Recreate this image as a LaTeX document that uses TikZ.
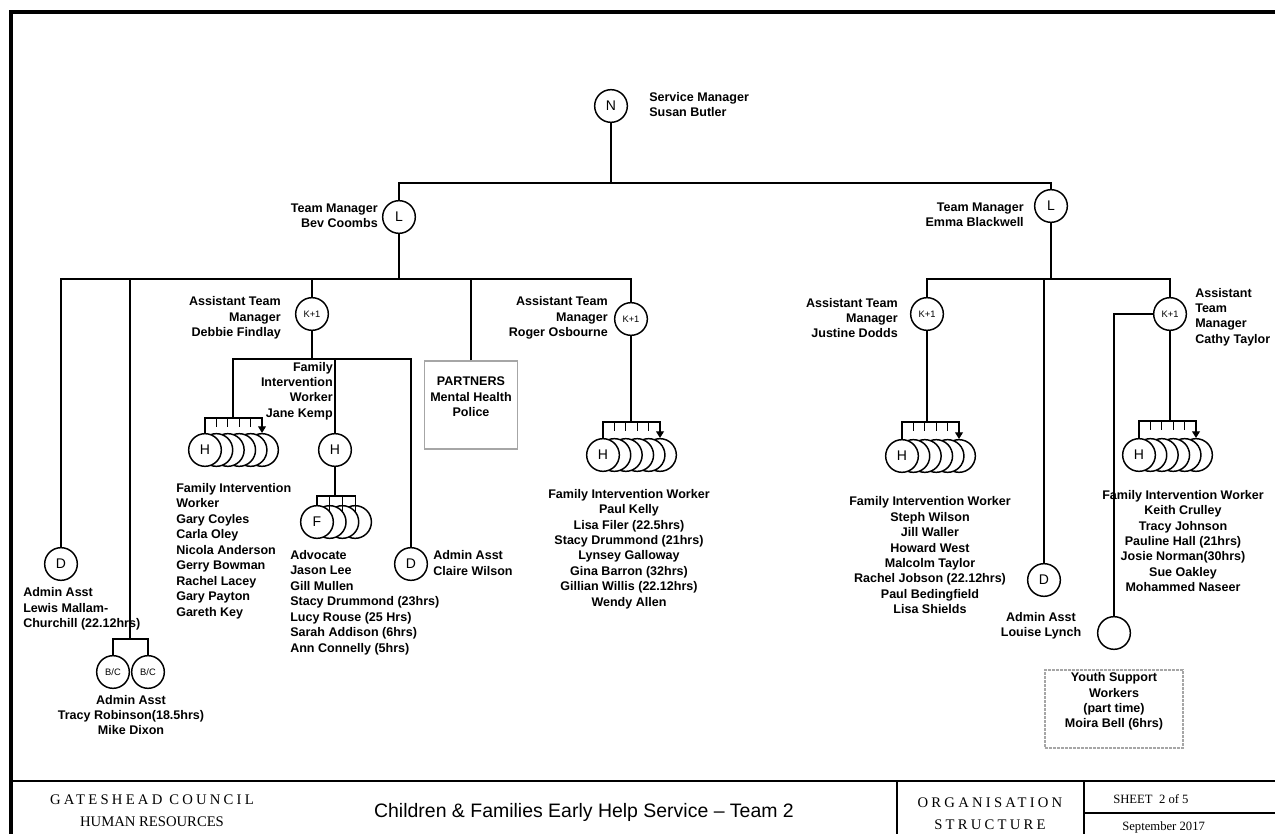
\documentclass[tikz,border=0pt]{standalone}
\usepackage{fontspec}
\setmainfont{Liberation Sans}
\newfontfamily\piedpage{Liberation Serif}
\newfontfamily\piedespace[LetterSpace=22]{Liberation Serif}
\usetikzlibrary{arrows.meta}

\begin{document}
\begin{tikzpicture}[x=0.75pt,y=-0.75pt]
\tikzset{poste/.style={draw, circle, fill=white, line width=1.1pt, minimum size=24.5pt, inner sep=0pt, font=\fontsize{10.5}{12}\selectfont}}
\tikzset{petitposte/.style={poste, font=\fontsize{7}{8}\selectfont}}
\tikzset{libelle/.style={inner sep=0pt, font=\bfseries\fontsize{9.4}{11.6}\selectfont}}
\tikzset{lien/.style={line width=0.8pt}}
\tikzset{fleche/.style={lien, -{Triangle[width=6pt,length=5pt]}}}
\tikzset{cadre/.style={draw=gray!70, line width=0.8pt, inner sep=0pt}}
\useasboundingbox (0,0) rectangle (1275,834);
\draw[line width=3pt] (11,834) -- (11,12) -- (1275,12);
\draw[line width=2pt] (11,781) -- (1275,781);
\draw[line width=1.5pt] (897,781) -- (897,834);
\draw[line width=1.5pt] (1084,781) -- (1084,834);
\draw[line width=1.5pt] (1084,813) -- (1275,813);
\node[poste] (N) at (611,106) {N};
\node[poste] (L1) at (399,217) {L};
\node[poste] (L2) at (1051,206) {L};
\node[petitposte] (K1) at (312,314) {K+1};
\node[petitposte] (K2) at (631,319) {K+1};
\node[petitposte] (K3) at (927,314) {K+1};
\node[petitposte] (K4) at (1170,314) {K+1};
\node[poste] (D1) at (61,564) {D};
\node[poste] (D2) at (411,564) {D};
\node[poste] (D3) at (1044,580) {D};
\node[petitposte] (BC1) at (113,672) {B/C};
\node[petitposte] (BC2) at (148,672) {B/C};
\node[poste] (H2) at (335,450) {H};
\node[poste] (YS) at (1114,633) {};
\node[poste] (H1f) at (262,450) {};
\node[poste] (H1e) at (250.6,450) {};
\node[poste] (H1d) at (239.2,450) {};
\node[poste] (H1c) at (227.8,450) {};
\node[poste] (H1b) at (216.4,450) {};
\node[poste] (H1a) at (205,450) {H};
\node[poste] (F1d) at (355.1,522) {};
\node[poste] (F1c) at (342.4,522) {};
\node[poste] (F1b) at (329.7,522) {};
\node[poste] (F1a) at (317,522) {F};
\node[poste] (H3f) at (660,455) {};
\node[poste] (H3e) at (648.6,455) {};
\node[poste] (H3d) at (637.2,455) {};
\node[poste] (H3c) at (625.8,455) {};
\node[poste] (H3b) at (614.4,455) {};
\node[poste] (H3a) at (603,455) {H};
\node[poste] (H4f) at (959,456) {};
\node[poste] (H4e) at (947.6,456) {};
\node[poste] (H4d) at (936.2,456) {};
\node[poste] (H4c) at (924.8,456) {};
\node[poste] (H4b) at (913.4,456) {};
\node[poste] (H4a) at (902,456) {H};
\node[poste] (H5f) at (1196,455) {};
\node[poste] (H5e) at (1184.6,455) {};
\node[poste] (H5d) at (1173.2,455) {};
\node[poste] (H5c) at (1161.8,455) {};
\node[poste] (H5b) at (1150.4,455) {};
\node[poste] (H5a) at (1139,455) {H};
\node[cadre, minimum width=70pt, minimum height=66pt] (P) at (471,405) {};
\node[cadre, dash pattern=on 2pt off 1pt, minimum width=103.5pt, minimum height=58.5pt] (Y) at (1114,709) {};
\coordinate (topbar) at (611,183);
\coordinate (bevbar) at (399,279);
\coordinate (rbar) at (1051,279);
\coordinate (debbar) at (312,359);
\coordinate (bcbar) at (130,639);
\coordinate (fb) at (335,496);
\coordinate (hb1) at (233,418);
\coordinate (hb3) at (631,422);
\coordinate (hb4) at (927,422);
\coordinate (hb5) at (1170,421);
\draw[lien] (N) -- (topbar);
\draw[lien] (L1.north) |- (topbar) -| (L2.north);
\draw[lien] (L1) -- (bevbar);
\draw[lien] (D1.north) |- (bevbar);
\draw[lien] (bcbar) |- (bevbar);
\draw[lien] (K1.north) |- (bevbar);
\draw[lien] (P.north) |- (bevbar);
\draw[lien] (K2.north) |- (bevbar);
\draw[lien] (BC1.north) |- (bcbar) -| (BC2.north);
\draw[lien] (K1) -- (debbar);
\draw[lien] (hb1) |- (debbar);
\draw[lien] (H2.north) |- (debbar);
\draw[lien] (D2.north) |- (debbar);
\draw[lien] (H2) -- (fb);
\draw[lien] (K2) -- (hb3);
\draw[lien] (L2) -- (rbar);
\draw[lien] (K3.north) |- (rbar);
\draw[lien] (D3.north) |- (rbar);
\draw[lien] (K4.north) |- (rbar);
\draw[lien] (K3) -- (hb4);
\draw[lien] (K4) -- (hb5);
\draw[lien] (K4.west) -| (YS.north);
\draw[fleche] (H1a.north) |- (hb1) -| (H1f.north);
\draw[lien] (H1b.north |- hb1) -- ++(0,9) (H1c.north |- hb1) -- ++(0,9) (H1d.north |- hb1) -- ++(0,9) (H1e.north |- hb1) -- ++(0,9);
\draw[fleche] (H3a.north) |- (hb3) -| (H3f.north);
\draw[lien] (H3b.north |- hb3) -- ++(0,9) (H3c.north |- hb3) -- ++(0,9) (H3d.north |- hb3) -- ++(0,9) (H3e.north |- hb3) -- ++(0,9);
\draw[fleche] (H4a.north) |- (hb4) -| (H4f.north);
\draw[lien] (H4b.north |- hb4) -- ++(0,9) (H4c.north |- hb4) -- ++(0,9) (H4d.north |- hb4) -- ++(0,9) (H4e.north |- hb4) -- ++(0,9);
\draw[fleche] (H5a.north) |- (hb5) -| (H5f.north);
\draw[lien] (H5b.north |- hb5) -- ++(0,9) (H5c.north |- hb5) -- ++(0,9) (H5d.north |- hb5) -- ++(0,9) (H5e.north |- hb5) -- ++(0,9);
\draw[lien] (F1a.north) |- (fb) -| (F1d.north);
\draw[lien] (F1b.north |- fb) -- ++(0,15.5) (F1c.north |- fb) -- ++(0,15.5) (F1d.north |- fb) -- ++(0,15.5);
\node[libelle, anchor=west, align=left] (tN) at (649,104.5) {Service Manager\\Susan Butler};
\node[libelle, anchor=east, align=right] (tL1) at (378,215.5) {Team Manager\\Bev Coombs};
\node[libelle, anchor=east, align=right] (tL2) at (1024,215) {Team Manager\\Emma Blackwell};
\node[libelle, anchor=east, align=right] (tK1) at (281,318) {Assistant Team\\Manager\\Debbie Findlay};
\node[libelle, anchor=east, align=right] (tH2) at (333,391) {Family\\Intervention\\Worker\\Jane Kemp};
\node[libelle, anchor=west, align=left] (tH1) at (176,551) {Family Intervention\\Worker\\Gary Coyles\\Carla Oley\\Nicola Anderson\\Gerry Bowman\\Rachel Lacey\\Gary Payton\\Gareth Key};
\node[libelle, anchor=west, align=left] (tF1) at (290,602.5) {Advocate\\Jason Lee\\Gill Mullen\\Stacy Drummond (23hrs)\\Lucy Rouse (25 Hrs)\\Sarah Addison (6hrs)\\Ann Connelly (5hrs)};
\node[libelle, anchor=west, align=left] (tD2) at (433,563) {Admin Asst\\Claire Wilson};
\node[libelle, anchor=west, align=left] (tD1) at (23,609) {Admin Asst\\Lewis Mallam-\\Churchill (22.12hrs)};
\node[libelle, align=center] (tBC) at (131,715) {Admin Asst\\Tracy Robinson(18.5hrs)\\Mike Dixon};
\node[libelle, align=center] (tP) at (471,397) {PARTNERS\\Mental Health\\Police};
\node[libelle, anchor=east, align=right] (tK2) at (608,318) {Assistant Team\\Manager\\Roger Osbourne};
\node[libelle, align=center] (tH3) at (629,549) {Family Intervention Worker\\Paul Kelly\\Lisa Filer (22.5hrs)\\Stacy Drummond (21hrs)\\Lynsey Galloway\\Gina Barron (32hrs)\\Gillian Willis (22.12hrs)\\Wendy Allen};
\node[libelle, anchor=east, align=right] (tK3) at (898,318) {Assistant Team\\Manager\\Justine Dodds};
\node[libelle, align=center] (tH4) at (930,555.3) {Family Intervention Worker\\Steph Wilson\\Jill Waller\\Howard West\\Malcolm Taylor\\Rachel Jobson (22.12hrs)\\Paul Bedingfield\\Lisa Shields};
\node[libelle, align=center] (tD3) at (1041,626) {Admin Asst\\Louise Lynch};
\node[libelle, anchor=west, align=left] (tK4) at (1195,317) {Assistant\\Team\\Manager\\Cathy Taylor};
\node[libelle, align=center] (tH5) at (1183,541) {Family Intervention Worker\\Keith Crulley\\Tracy Johnson\\Pauline Hall (21hrs)\\Josie Norman(30hrs)\\Sue Oakley\\Mohammed Naseer};
\node[libelle, align=center] (tY) at (1114,701.5) {Youth Support\\Workers\\(part time)\\Moira Bell (6hrs)};
\node[inner sep=0pt, font=\piedespace\fontsize{11}{12}\selectfont] (GC) at (152,800) {GATESHEAD COUNCIL};
\node[inner sep=0pt, font=\piedpage\fontsize{11}{12}\selectfont] (HR) at (152,822) {HUMAN RESOURCES};
\node[inner sep=0pt, font=\fontsize{14.6}{16}\selectfont] (titre) at (584,812) {Children \& Families Early Help Service – Team 2};
\node[inner sep=0pt, font=\piedespace\fontsize{11}{12}\selectfont] (ORG) at (990,803) {ORGANISATION};
\node[inner sep=0pt, font=\piedespace\fontsize{11}{12}\selectfont] (STR) at (990,825) {STRUCTURE};
\node[inner sep=0pt, anchor=west, font=\piedpage\fontsize{9.5}{11}\selectfont] (feuille) at (1113,799) {SHEET\ \ 2 of 5};
\node[inner sep=0pt, anchor=west, font=\piedpage\fontsize{9.5}{11}\selectfont] (date) at (1122,827) {September 2017};
\end{tikzpicture}
\end{document}
